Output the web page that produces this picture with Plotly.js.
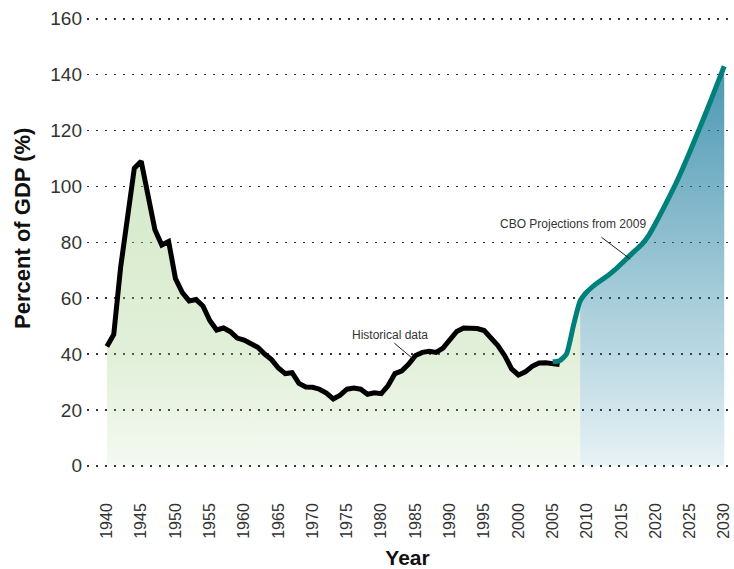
<!DOCTYPE html>
<html>
<head>
<meta charset="utf-8">
<script src="https://cdn.plot.ly/plotly-3.0.1.min.js"></script>
<style>html,body{margin:0;padding:0;background:#fff;}#chart{width:734px;height:569px;}</style>
</head>
<body>
<div id="chart"></div>
<script>
// Historical data (percent of GDP), one value per year 1940–2006
const histYears = [];
for (let y = 1940; y <= 2006; y++) histYears.push(y);
const histValues = [
  42.7, 47.0, 71.0, 88.5, 106.5, 109.0, 96.0, 84.5, 79.0, 80.3,
  67.0, 62.0, 59.0, 59.5, 57.2, 52.0, 48.6, 49.3, 48.0, 45.7,
  45.0, 43.7, 42.4, 40.0, 38.0, 35.0, 33.0, 33.3, 29.5, 28.2,
  28.1, 27.4, 26.0, 23.9, 25.3, 27.4, 27.8, 27.4, 25.6, 26.1,
  25.8, 28.7, 33.0, 34.0, 36.4, 39.5, 40.6, 41.0, 40.6, 42.1,
  45.3, 48.1, 49.3, 49.2, 49.1, 48.4, 45.9, 43.0, 39.4, 34.7,
  32.5, 33.6, 35.6, 36.8, 36.9, 36.5, 36.2
];

// CBO projections from 2009, one value per year 2005–2030
const projYears = [];
for (let y = 2005; y <= 2030; y++) projYears.push(y);
const projValues = [
  37.2, 37.6, 40.0, 50.0, 59.0, 62.3, 64.5, 66.3, 68.0, 70.0,
  72.3, 74.7, 77.0, 79.3, 82.5, 86.8, 91.5, 96.3, 101.3, 106.8,
  112.5, 118.4, 124.4, 130.5, 136.8, 143.0
];

// Axis ticks
const xTickVals = [1940,1945,1950,1955,1960,1965,1970,1975,1980,1985,1990,1995,2000,2005,2010,2015,2020,2025,2030];
const xTickText = xTickVals.map(String);
const yTickVals = [0,20,40,60,80,100,120,140,160];
const yTickText = yTickVals.map(String);

const splitYear = 2009;

// Green fill: historical values until the projection starts, then projection values up to 2009
const greenX = [], greenY = [];
histYears.forEach((y, i) => { if (y < projYears[0]) { greenX.push(y); greenY.push(histValues[i]); } });
projYears.forEach((y, i) => { if (y <= splitYear) { greenX.push(y); greenY.push(projValues[i]); } });

// Blue fill: projection from 2009 on
const blueX = [], blueY = [];
projYears.forEach((y, i) => { if (y >= splitYear) { blueX.push(y); blueY.push(projValues[i]); } });

const font = 'Liberation Sans, Arial, Helvetica, sans-serif';

const traces = [
  {
    x: greenX, y: greenY, type: 'scatter', mode: 'lines',
    line: {width: 0}, fill: 'tozeroy', hoverinfo: 'skip',
    fillcolor: 'rgba(150,200,120,0.33)',
    fillgradient: {
      type: 'vertical', start: 0, stop: 110,
      colorscale: [[0, 'rgba(150,200,120,0.10)'], [0.35, 'rgba(150,200,120,0.28)'], [1, 'rgba(150,200,120,0.40)']]
    }
  },
  {
    x: blueX, y: blueY, type: 'scatter', mode: 'lines',
    line: {width: 0}, fill: 'tozeroy', hoverinfo: 'skip',
    fillcolor: 'rgba(20,120,155,0.4)',
    fillgradient: {
      type: 'vertical', start: 0, stop: 145,
      colorscale: [[0, 'rgba(20,120,155,0.10)'], [0.25, 'rgba(20,120,155,0.27)'], [0.45, 'rgba(20,120,155,0.40)'], [1, 'rgba(20,120,155,0.78)']]
    }
  },
  {
    x: histYears, y: histValues, type: 'scatter', mode: 'lines',
    line: {color: '#000000', width: 5, shape: 'linear'}, hoverinfo: 'skip'
  },
  {
    x: projYears, y: projValues, type: 'scatter', mode: 'lines',
    line: {color: '#00807a', width: 5, shape: 'spline', smoothing: 0.6}, hoverinfo: 'skip'
  }
];

const layout = {
  width: 734, height: 569,
  margin: {l: 87, r: 6, t: 16, b: 101},
  paper_bgcolor: '#ffffff', plot_bgcolor: '#ffffff',
  showlegend: false,
  font: {family: font, color: '#333333'},
  xaxis: {
    range: [1937.1, 2030.55],
    tickmode: 'array', tickvals: xTickVals, ticktext: xTickText,
    tickangle: -90, tickfont: {size: 16, color: '#333333', family: font},
    ticklabeloverflow: 'allow',
    showgrid: false, zeroline: false, showline: false, ticks: '',
    ticklabelstandoff: 31,
    title: {text: 'Year', font: {size: 21, color: '#111111', family: font, weight: 'bold'}, standoff: 13}
  },
  yaxis: {
    range: [-0.8, 161],
    tickmode: 'array', tickvals: yTickVals, ticktext: yTickText,
    tickfont: {size: 19, color: '#333333', family: font},
    showgrid: true, gridcolor: '#333333', gridwidth: 1.5, griddash: '2px,7px',
    zeroline: false, showline: false, ticks: '',
    ticklabelstandoff: 4
  },
  annotations: [
    {xref: 'paper', yref: 'paper', x: -0.0998, y: 0.529, xanchor: 'center', yanchor: 'middle',
     textangle: -90, text: '<b>Percent of GDP (%)</b>', showarrow: false,
     font: {size: 22, color: '#111111', family: font}},
    {x: 1981.3, y: 46.9, xref: 'x', yref: 'y', text: 'Historical data', showarrow: false,
     font: {size: 12, color: '#333333', family: font}},
    {x: 2008.0, y: 86.6, xref: 'x', yref: 'y', text: 'CBO Projections from 2009', showarrow: false,
     font: {size: 12, color: '#333333', family: font}}
  ],
  shapes: [
    {type: 'line', xref: 'x', yref: 'y', x0: 1981.9, y0: 43.9, x1: 1984.8, y1: 37.9, line: {color: '#222222', width: 1}},
    {type: 'line', xref: 'x', yref: 'y', x0: 2012.1, y0: 81.8, x1: 2016.3, y1: 74.0, line: {color: '#222222', width: 1}}
  ]
};

Plotly.newPlot('chart', traces, layout, {displayModeBar: false, staticPlot: true});
</script>
</body>
</html>
